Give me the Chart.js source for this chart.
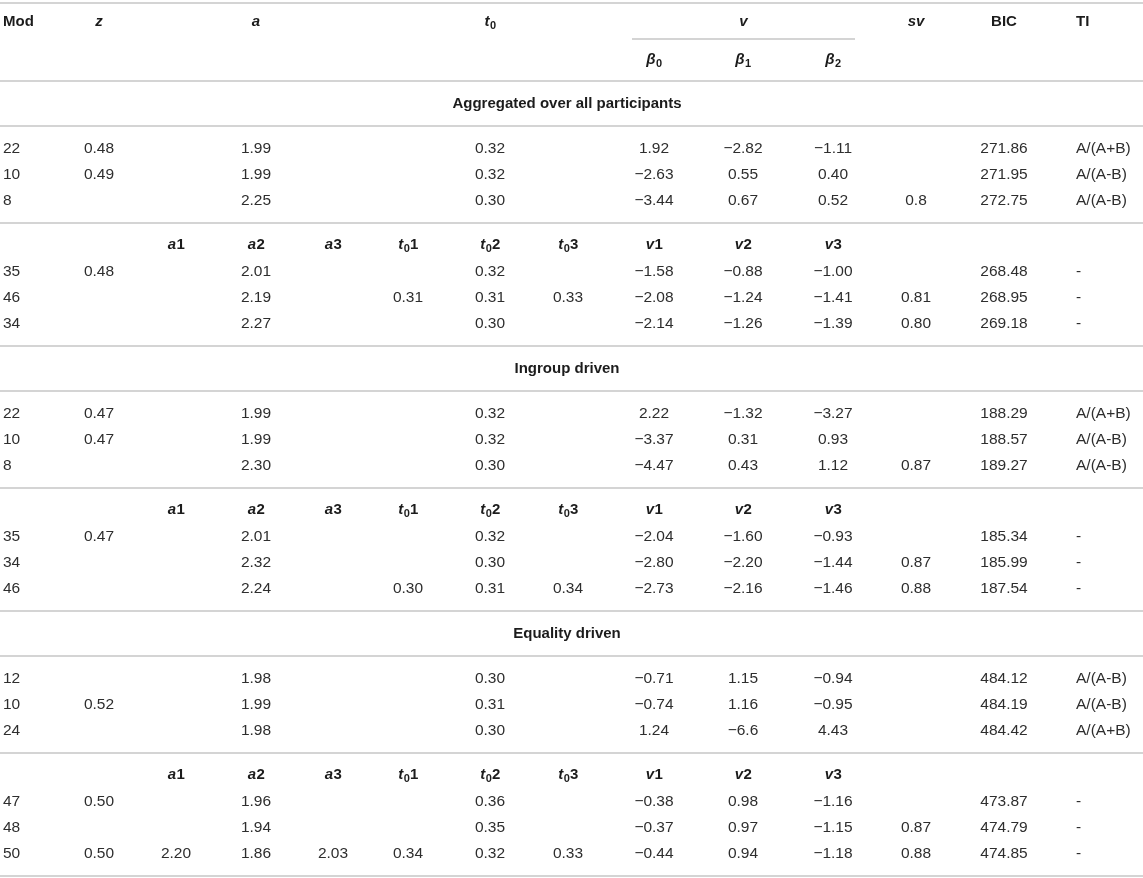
<!DOCTYPE html>
<html><head><meta charset="utf-8">
<script src="https://cdn.jsdelivr.net/npm/chart.js@4.4.1/dist/chart.umd.min.js"></script>
<style>html,body{margin:0;padding:0;background:#fff}#wrap{width:1143px;height:878px;position:relative}</style>
</head><body><div id="wrap"><canvas id="c"></canvas></div>
<script>
// ---------- DATA ----------
const sectionTitles = ['Aggregated over all participants', 'Ingroup driven', 'Equality driven'];
const headerTop = ['Mod', '*z*', '*a*', '*t*_{0}', '*v*', '*sv*', 'BIC', 'TI'];
const headerBeta = ['*β*_{0}', '*β*_{1}', '*β*_{2}'];
const subHeader = ['*a*1', '*a*2', '*a*3', '*t*_{0}1', '*t*_{0}2', '*t*_{0}3', '*v*1', '*v*2', '*v*3'];

const mod = ['22','10','8','35','46','34','22','10','8','35','34','46','12','10','24','47','48','50'];
const z   = ['0.48','0.49',null,'0.48',null,null,'0.47','0.47',null,'0.47',null,null,null,'0.52',null,'0.50',null,'0.50'];
const a1  = [null,null,null,null,null,null,null,null,null,null,null,null,null,null,null,null,null,'2.20'];
const a2  = ['1.99','1.99','2.25','2.01','2.19','2.27','1.99','1.99','2.30','2.01','2.32','2.24','1.98','1.99','1.98','1.96','1.94','1.86'];
const a3  = [null,null,null,null,null,null,null,null,null,null,null,null,null,null,null,null,null,'2.03'];
const t01 = [null,null,null,null,'0.31',null,null,null,null,null,null,'0.30',null,null,null,null,null,'0.34'];
const t02 = ['0.32','0.32','0.30','0.32','0.31','0.30','0.32','0.32','0.30','0.32','0.30','0.31','0.30','0.31','0.30','0.36','0.35','0.32'];
const t03 = [null,null,null,null,'0.33',null,null,null,null,null,null,'0.34',null,null,null,null,null,'0.33'];
const v1  = ['1.92','−2.63','−3.44','−1.58','−2.08','−2.14','2.22','−3.37','−4.47','−2.04','−2.80','−2.73','−0.71','−0.74','1.24','−0.38','−0.37','−0.44'];
const v2  = ['−2.82','0.55','0.67','−0.88','−1.24','−1.26','−1.32','0.31','0.43','−1.60','−2.20','−2.16','1.15','1.16','−6.6','0.98','0.97','0.94'];
const v3  = ['−1.11','0.40','0.52','−1.00','−1.41','−1.39','−3.27','0.93','1.12','−0.93','−1.44','−1.46','−0.94','−0.95','4.43','−1.16','−1.15','−1.18'];
const sv  = [null,null,'0.8',null,'0.81','0.80',null,null,'0.87',null,'0.87','0.88',null,null,null,null,'0.87','0.88'];
const bic = ['271.86','271.95','272.75','268.48','268.95','269.18','188.29','188.57','189.27','185.34','185.99','187.54','484.12','484.19','484.42','473.87','474.79','474.85'];
const ti  = ['A/(A+B)','A/(A-B)','A/(A-B)','-','-','-','A/(A+B)','A/(A-B)','A/(A-B)','-','-','-','A/(A-B)','A/(A-B)','A/(A+B)','-','-','-'];

// ---------- LAYOUT (scale units) ----------
const W = 1143, H = 878;
const COL = {mod:3, z:99, a1:176, a2:256, a3:333, t01:408, t02:490, t03:568, v1:654, v2:743, v3:833, sv:916, bic:1004, ti:1076};
const TITLE_X = 567;
const FONT = "'Liberation Sans', Arial, sans-serif";
const VAL_SIZE = 15.5, HEAD_SIZE = 15;

const rules = [];           // {y, x0, x1}
const rowY = [], titleY = [], subY = [];
rules.push({y:3, x0:0, x1:W});
const head1Y = 22, head2Y = 60;
rules.push({y:39, x0:632, x1:855});
let y = 81; rules.push({y, x0:0, x1:W});
for (let s = 0; s < 3; s++) {
  titleY.push(y + 22.5); y += 45; rules.push({y, x0:0, x1:W});
  let r = y + 23; for (let k = 0; k < 3; k++) { rowY.push(r); r += 26; }
  y = r - 26 + 22; rules.push({y, x0:0, x1:W});
  subY.push(y + 22); r = y + 22 + 27; for (let k = 0; k < 3; k++) { rowY.push(r); r += 26; }
  y = r - 26 + 22; rules.push({y, x0:0, x1:W});
}

// ---------- DATASETS ----------
const datasets = [];
rules.forEach(rl => datasets.push({
  type:'scatter', showLine:true, borderColor:'#c6c6c6', borderWidth:1.6, pointRadius:0,
  clip:false, data:[{x:rl.x0, y:rl.y}, {x:rl.x1, y:rl.y}]
}));
function textSet(points, opt) {
  datasets.push(Object.assign({type:'scatter', pointRadius:0, showLine:false, clip:false, textCells:true, data:points}, opt));
}
const cols = [['mod',mod,'left'],['z',z],['a1',a1],['a2',a2],['a3',a3],['t01',t01],['t02',t02],['t03',t03],
              ['v1',v1],['v2',v2],['v3',v3],['sv',sv],['bic',bic],['ti',ti,'left']];
cols.forEach(([key, arr, al]) => {
  const pts = [];
  arr.forEach((v, i) => { if (v !== null) pts.push({x:COL[key], y:rowY[i], text:v}); });
  textSet(pts, {align: al || 'center', bold:false, color:'#2e2e2e', size:VAL_SIZE});
});
const topKeys = ['mod','z','a2','t02',null,'sv','bic','ti'];
textSet(headerTop.map((t, i) => ({x: topKeys[i] ? COL[topKeys[i]] : (632 + 855) / 2, y: head1Y, text: t,
  align: (topKeys[i] === 'mod' || topKeys[i] === 'ti') ? 'left' : 'center'})), {bold:true, color:'#1c1c1c', size:HEAD_SIZE});
textSet(headerBeta.map((t, i) => ({x: COL[['v1','v2','v3'][i]], y: head2Y, text: t})), {bold:true, color:'#1c1c1c', align:'center', size:HEAD_SIZE});
const subKeys = ['a1','a2','a3','t01','t02','t03','v1','v2','v3'];
subY.forEach(sy => textSet(subHeader.map((t, i) => ({x: COL[subKeys[i]], y: sy, text: t})), {bold:true, color:'#1c1c1c', align:'center', size:HEAD_SIZE}));
textSet(sectionTitles.map((t, i) => ({x: TITLE_X, y: titleY[i], text: t})), {bold:true, color:'#1c1c1c', align:'center', size:HEAD_SIZE});

// ---------- RICH TEXT ----------
function parseRich(s) {
  const re = /\*([^*]+)\*|_\{([^}]+)\}|([^*_]+)/g; const out = []; let m;
  while ((m = re.exec(s))) {
    if (m[1] !== undefined) out.push({t:m[1], it:true});
    else if (m[2] !== undefined) out.push({t:m[2], sub:true});
    else out.push({t:m[3]});
  }
  return out;
}
function drawRich(ctx, s, x, y, align, size, bold, color) {
  const segs = parseRich(s);
  const fontOf = g => `${g.it ? 'italic ' : ''}${bold ? 'bold ' : ''}${g.sub ? Math.round(size * 0.72) : size}px ${FONT}`;
  let w = 0;
  segs.forEach(g => { ctx.font = fontOf(g); g.w = ctx.measureText(g.t).width; w += g.w; });
  let cx = align === 'left' ? x : x - w / 2;
  ctx.fillStyle = color; ctx.textBaseline = 'middle'; ctx.textAlign = 'left';
  segs.forEach(g => {
    ctx.font = fontOf(g);
    ctx.fillText(g.t, cx, g.sub ? y + size * 0.28 : y);
    cx += g.w + (g.it ? 0.5 : 0);
  });
}
const textPlugin = {
  id:'textCells',
  afterDatasetsDraw(chart) {
    const ctx = chart.ctx; ctx.save();
    chart.data.datasets.forEach((ds, i) => {
      if (!ds.textCells) return;
      const meta = chart.getDatasetMeta(i);
      meta.data.forEach((el, j) => {
        const raw = ds.data[j];
        drawRich(ctx, raw.text, el.x, el.y, raw.align || ds.align, ds.size, ds.bold, ds.color);
      });
    });
    ctx.restore();
  }
};

new Chart(document.getElementById('c'), {
  type:'scatter',
  data:{datasets},
  options:{
    responsive:true, maintainAspectRatio:false, animation:false, events:[],
    layout:{padding:0},
    plugins:{legend:{display:false}, tooltip:{enabled:false}},
    scales:{
      x:{type:'linear', min:0, max:W, display:false},
      y:{type:'linear', min:0, max:H, reverse:true, display:false}
    }
  },
  plugins:[textPlugin]
});
</script></body></html>
